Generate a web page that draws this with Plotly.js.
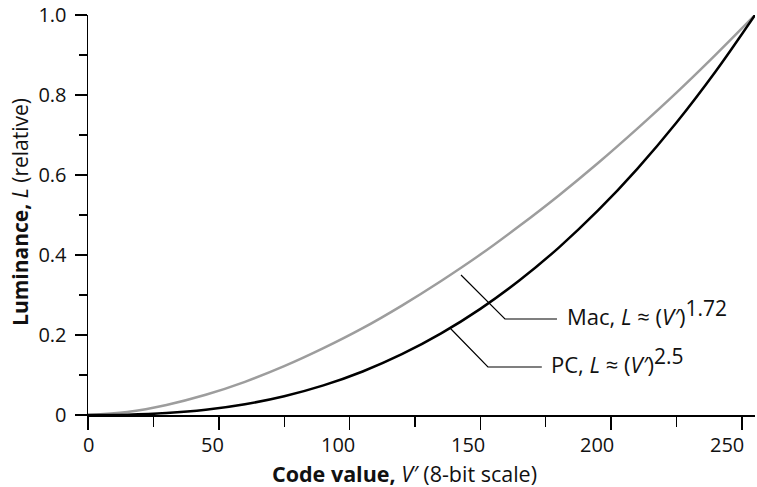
<!DOCTYPE html>
<html>
<head>
<meta charset="utf-8">
<script src="https://cdn.plot.ly/plotly-3.0.1.min.js"></script>
<style>html,body{margin:0;padding:0;background:#fff;}#chart{width:757px;height:487px;}</style>
</head>
<body>
<div id="chart"></div>
<script>
// Code values (8-bit)
const codeValues = [0, 15, 30, 45, 60, 75, 90, 105, 120, 135, 150, 165, 180, 195, 210, 225, 240, 255];
// Mac luminance, L ≈ (V')^1.72
const macLuminance = [0, 0.0077, 0.0252, 0.0506, 0.083, 0.122, 0.167, 0.217, 0.2735, 0.335, 0.401, 0.473, 0.549, 0.630, 0.716, 0.806, 0.901, 1.0];
// PC luminance, L ≈ (V')^2.5
const pcLuminance = [0, 0.0008, 0.0048, 0.0131, 0.0269, 0.0469, 0.074, 0.1088, 0.152, 0.204, 0.2654, 0.3368, 0.4186, 0.5113, 0.6154, 0.7312, 0.8594, 1.0];

const xTickVals = [0, 50, 100, 150, 200, 250];
const xTickText = ['0', '50', '100', '150', '200', '250'];
const xMinorVals = [25, 75, 125, 175, 225];
const yTickVals = [0, 0.2, 0.4, 0.6, 0.8, 1.0];
const yTickText = ['0', '0.2', '0.4', '0.6', '0.8', '1.0'];
const yMinorVals = [0.1, 0.3, 0.5, 0.7, 0.9];

const FONT = '"Open Sans", "Noto Sans", sans-serif';

// label offsets (pixels) used by the original artwork for the x tick labels
const xLabelShift = [0, -6, -12, -12, -14, -15];

const traces = [
  {x: codeValues, y: macLuminance, mode: 'lines', line: {color: '#9d9d9d', width: 2.5, shape: 'spline'}, name: 'Mac', hoverinfo: 'skip'},
  {x: codeValues, y: pcLuminance, mode: 'lines', line: {color: '#000000', width: 2.5, shape: 'spline'}, name: 'PC', hoverinfo: 'skip'}
];

const xLabelAnns = xTickVals.map((v, i) => ({
  xref: 'x', yref: 'paper', x: v, y: 0, xanchor: 'center', yanchor: 'middle',
  xshift: xLabelShift[i], yshift: -29.5, showarrow: false,
  text: xTickText[i], font: {size: 20, family: FONT, color: '#111'}
}));

const layout = {
  width: 757, height: 487,
  margin: {l: 88, r: 2, t: 15, b: 72},
  paper_bgcolor: '#fff', plot_bgcolor: '#fff',
  showlegend: false,
  font: {family: FONT, size: 20, color: '#111'},
  xaxis: {
    range: [0, 255], showgrid: false, zeroline: false,
    showline: true, linecolor: '#000', linewidth: 1.5,
    ticks: 'outside', ticklen: 13, tickwidth: 1.5, tickcolor: '#000',
    tickvals: xTickVals, showticklabels: false,
    minor: {tickvals: xMinorVals, ticks: 'outside', ticklen: 10, tickwidth: 1.2, tickcolor: '#000', showgrid: false}
  },
  yaxis: {
    range: [0, 1.0], showgrid: false, zeroline: false,
    showline: true, linecolor: '#000', linewidth: 1.5,
    ticks: 'outside', ticklen: 12, tickwidth: 1.5, tickcolor: '#000',
    tickvals: yTickVals, ticktext: yTickText, tickfont: {size: 20, family: FONT},
    ticklabelstandoff: 4, ticklabeloverflow: 'allow',
    minor: {tickvals: yMinorVals, ticks: 'outside', ticklen: 8, tickwidth: 1.2, tickcolor: '#000', showgrid: false}
  },
  shapes: [
    {type: 'path', xref: 'x', yref: 'y', path: 'M142.6,0.35 L159.4,0.24 L179.3,0.24', line: {color: '#000', width: 1.2}},
    {type: 'path', xref: 'x', yref: 'y', path: 'M138.4,0.2175 L152.9,0.12 L173.5,0.12', line: {color: '#000', width: 1.2}}
  ],
  annotations: xLabelAnns.concat([
    {xref: 'paper', yref: 'paper', x: 0.474, y: -0.147, xanchor: 'center', yanchor: 'middle', showarrow: false,
     text: '<b>Code value,</b> <i>V′</i> (8-bit scale)', font: {size: 21.5, family: FONT}},
    {xref: 'paper', yref: 'paper', x: -0.102, y: 0.5075, xanchor: 'center', yanchor: 'middle', showarrow: false, textangle: -90,
     text: '<b>Luminance,</b> <i>L</i> (relative)', font: {size: 21, family: FONT}},
    {xref: 'x', yref: 'y', x: 182.3, y: 0.24, xanchor: 'left', yanchor: 'bottom', yshift: -14, showarrow: false, align: 'left',
     text: 'Mac, <i>L</i> ≈ (<i>V′</i>)<sup><span style="font-size:21px">1.72</span></sup>', font: {size: 22, family: FONT}},
    {xref: 'x', yref: 'y', x: 176.2, y: 0.12, xanchor: 'left', yanchor: 'bottom', yshift: -14, showarrow: false, align: 'left',
     text: 'PC, <i>L</i> ≈ (<i>V′</i>)<sup><span style="font-size:21px">2.5</span></sup>', font: {size: 22, family: FONT}}
  ])
};

Plotly.newPlot('chart', traces, layout, {staticPlot: true, displayModeBar: false});
</script>
</body>
</html>
